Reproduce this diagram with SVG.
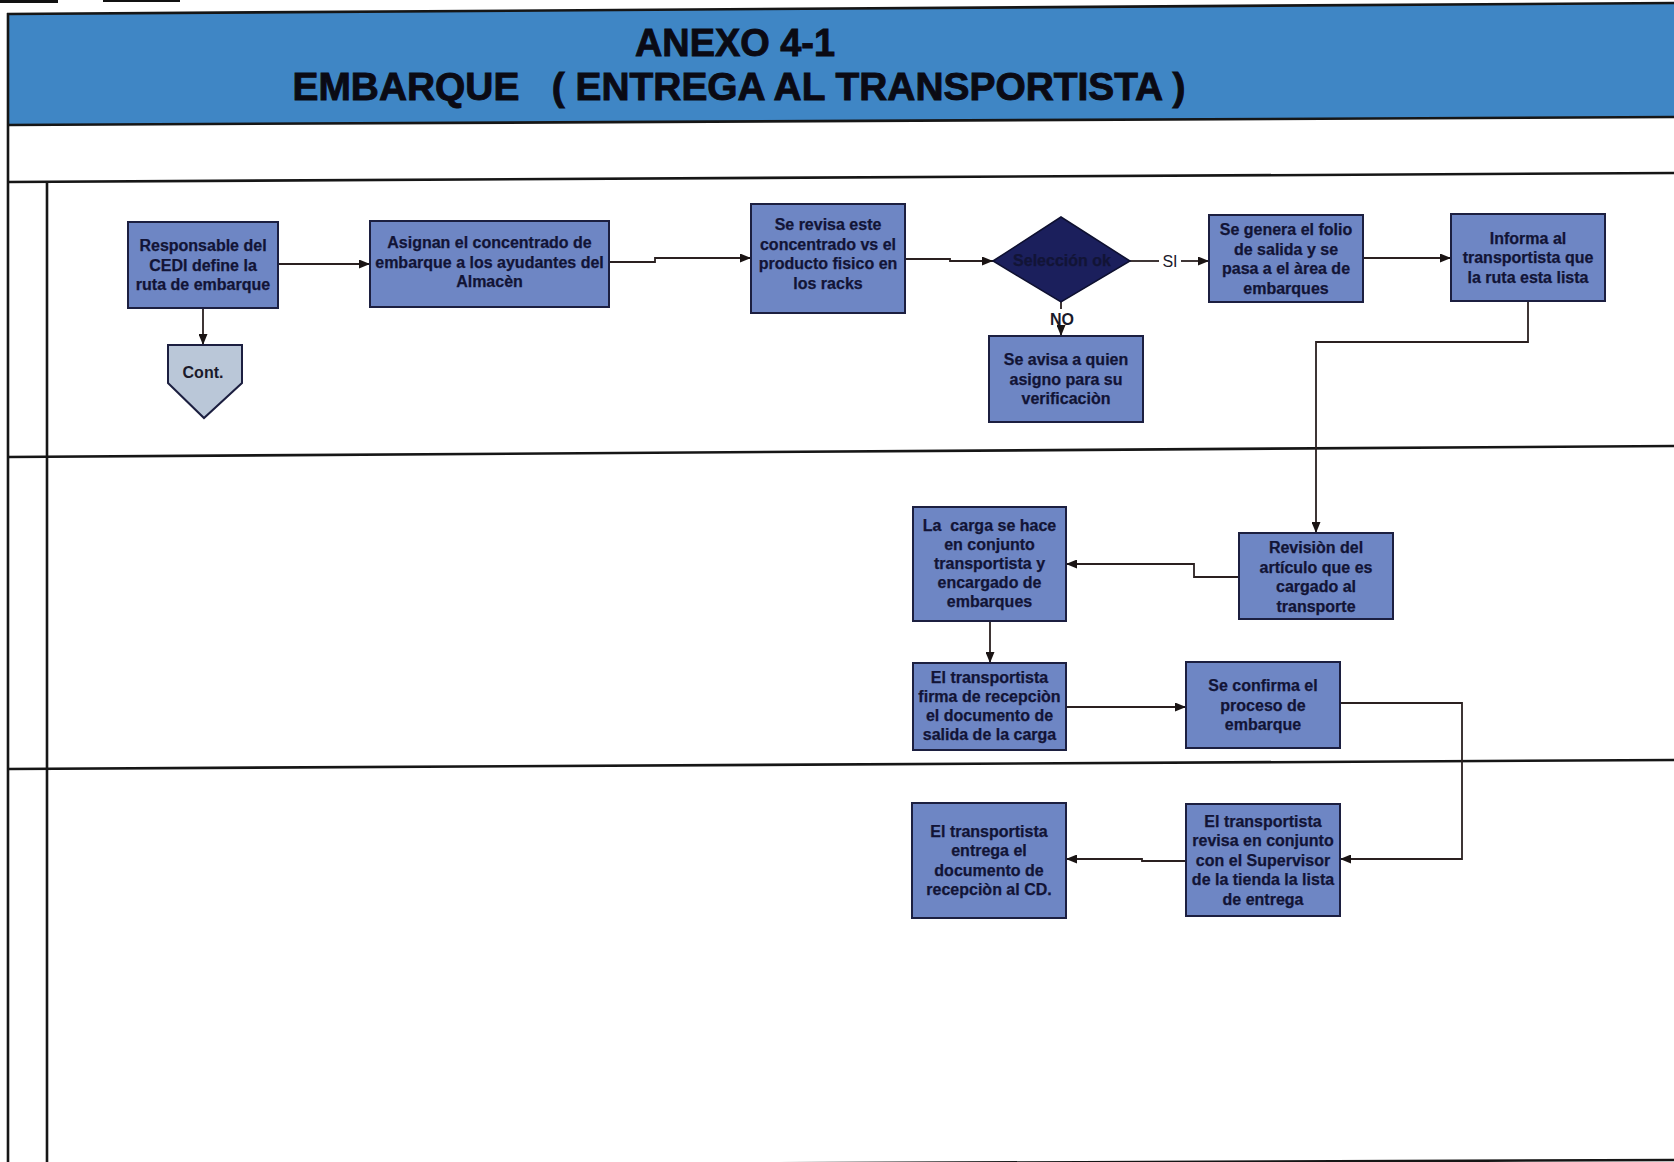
<svg xmlns="http://www.w3.org/2000/svg" width="1674" height="1162" viewBox="0 0 1674 1162">
  <style>
    .lane { stroke: #161616; stroke-width: 2.6; fill: none; }
    .box { fill: #6E86C4; stroke: #1C1F40; stroke-width: 2; }
    .txt { font-family: "Liberation Sans", Arial, sans-serif; font-size: 16px; font-weight: bold; fill: #121436; stroke: #121436; stroke-width: 0.25; text-anchor: middle; }
    .conn { stroke: #2A2020; stroke-width: 1.8; fill: none; }
    .lbl { font-family: "Liberation Sans", Arial, sans-serif; font-size: 16px; fill: #1A1A2A; text-anchor: middle; }
    .title { font-family: "Liberation Sans", Arial, sans-serif; font-size: 38px; font-weight: bold; fill: #0A0A14; stroke: #0A0A14; stroke-width: 0.9; text-anchor: middle; }
  </style>
  <defs>
    <marker id="arrow" markerUnits="userSpaceOnUse" markerWidth="11" markerHeight="9" refX="11" refY="4.5" orient="auto">
      <path d="M0,0 L11,4.5 L0,9 z" fill="#1A1414"/>
    </marker>
  </defs>

  <rect width="1674" height="1162" fill="#FFFFFF"/>

  <!-- corner marks -->
  <line x1="0" y1="1.5" x2="58" y2="1.5" stroke="#111" stroke-width="3"/>
  <line x1="103" y1="1" x2="180" y2="1" stroke="#111" stroke-width="2"/>

  <!-- header band -->
  <g id="header">
    <polygon points="7,14 1674,3 1674,117 7,125" fill="#3F86C5"/>
    <line class="lane" x1="7" y1="14" x2="1674" y2="3"/>
    <line class="lane" x1="7" y1="125" x2="1674" y2="117"/>
    <text class="title" x="735" y="56" textLength="200" lengthAdjust="spacingAndGlyphs">ANEXO 4-1</text>
    <text class="title" x="739" y="100" textLength="893" lengthAdjust="spacingAndGlyphs" xml:space="preserve">EMBARQUE   ( ENTREGA AL TRANSPORTISTA )</text>
  </g>

  <!-- swimlane grid -->
  <g id="lanes">
    <line class="lane" x1="7" y1="182" x2="1674" y2="173"/>
    <line class="lane" x1="7" y1="457" x2="1674" y2="446"/>
    <line class="lane" x1="7" y1="769" x2="1674" y2="760"/>
    <line class="lane" x1="47" y1="1166" x2="1674" y2="1160"/>
    <line class="lane" x1="8" y1="13" x2="8" y2="1162" stroke-width="2.2"/>
    <line class="lane" x1="47" y1="181" x2="47" y2="1162" stroke-width="2"/>
  </g>

  <!-- connectors -->
  <g id="connectors">
    <path class="conn" d="M278,264 H370" marker-end="url(#arrow)"/>
    <path class="conn" d="M203,308 V345" marker-end="url(#arrow)"/>
    <path class="conn" d="M609,262 H655 V258 H751" marker-end="url(#arrow)"/>
    <path class="conn" d="M905,259 H950 V261 H993" marker-end="url(#arrow)"/>
    <path class="conn" d="M1130,261 H1159"/>
    <path class="conn" d="M1181,261 H1209" marker-end="url(#arrow)"/>
    <text class="lbl" x="1170" y="266.5">SI</text>
    <path class="conn" d="M1061,302 V309"/>
    <path class="conn" d="M1061,328 V336" marker-end="url(#arrow)"/>
    <text class="lbl" x="1062" y="325" font-weight="bold">NO</text>
    <path class="conn" d="M1363,258 H1451" marker-end="url(#arrow)"/>
    <path class="conn" d="M1528,301 V342 H1316 V533" marker-end="url(#arrow)"/>
    <path class="conn" d="M1239,577 H1194 V564 H1066" marker-end="url(#arrow)"/>
    <path class="conn" d="M990,621 V663" marker-end="url(#arrow)"/>
    <path class="conn" d="M1066,707 H1186" marker-end="url(#arrow)"/>
    <path class="conn" d="M1340,703 H1462 V859 H1340" marker-end="url(#arrow)"/>
    <path class="conn" d="M1186,861 H1142 V859 H1066" marker-end="url(#arrow)"/>
  </g>

  <!-- process nodes -->
  <g id="n-responsable">
    <rect class="box" x="128" y="222" width="150" height="86"/>
    <text class="txt" x="203" y="251"><tspan x="203">Responsable del</tspan><tspan x="203" dy="19.5">CEDI define la</tspan><tspan x="203" dy="19.5">ruta de embarque</tspan></text>
  </g>

  <g id="n-cont">
    <polygon points="168,345 242,345 242,383 204,418 168,383" fill="#BAC7D8" stroke="#1C1F40" stroke-width="2"/>
    <text class="lbl" x="203" y="378" font-weight="bold" fill="#1A1C30">Cont.</text>
  </g>

  <g id="n-asignan">
    <rect class="box" x="370" y="221" width="239" height="86"/>
    <text class="txt" x="489.5" y="248"><tspan x="489.5">Asignan el concentrado de</tspan><tspan x="489.5" dy="19.5">embarque a los ayudantes del</tspan><tspan x="489.5" dy="19.5">Almacèn</tspan></text>
  </g>

  <g id="n-revisa">
    <rect class="box" x="751" y="204" width="154" height="109"/>
    <text class="txt" x="828" y="230"><tspan x="828">Se revisa este</tspan><tspan x="828" dy="19.5">concentrado vs el</tspan><tspan x="828" dy="19.5">producto fisico en</tspan><tspan x="828" dy="19.5">los racks</tspan></text>
  </g>

  <g id="n-seleccion">
    <polygon points="993,261 1061,217 1130,261 1061,302" fill="#1B1F5C" stroke="#0E1030" stroke-width="1.5"/>
    <text class="txt" x="1062" y="266" font-size="15" fill="#0A0B26" stroke="none">Selección ok</text>
  </g>

  <g id="n-avisa">
    <rect class="box" x="989" y="336" width="154" height="86"/>
    <text class="txt" x="1066" y="365"><tspan x="1066">Se avisa a quien</tspan><tspan x="1066" dy="19.5">asigno para su</tspan><tspan x="1066" dy="19.5">verificaciòn</tspan></text>
  </g>

  <g id="n-folio">
    <rect class="box" x="1209" y="215" width="154" height="87"/>
    <text class="txt" x="1286" y="235"><tspan x="1286">Se genera el folio</tspan><tspan x="1286" dy="19.5">de salida y se</tspan><tspan x="1286" dy="19.5">pasa a el àrea de</tspan><tspan x="1286" dy="19.5">embarques</tspan></text>
  </g>

  <g id="n-informa">
    <rect class="box" x="1451" y="214" width="154" height="87"/>
    <text class="txt" x="1528" y="243.5"><tspan x="1528">Informa al</tspan><tspan x="1528" dy="19.5">transportista que</tspan><tspan x="1528" dy="19.5">la ruta esta lista</tspan></text>
  </g>

  <g id="n-revision">
    <rect class="box" x="1239" y="533" width="154" height="86"/>
    <text class="txt" x="1316" y="553"><tspan x="1316">Revisiòn del</tspan><tspan x="1316" dy="19.5">artículo que es</tspan><tspan x="1316" dy="19.5">cargado al</tspan><tspan x="1316" dy="19.5">transporte</tspan></text>
  </g>

  <g id="n-carga">
    <rect class="box" x="913" y="507" width="153" height="114"/>
    <text class="txt" x="989.5" y="530.5" xml:space="preserve"><tspan x="989.5">La  carga se hace</tspan><tspan x="989.5" dy="19">en conjunto</tspan><tspan x="989.5" dy="19">transportista y</tspan><tspan x="989.5" dy="19">encargado de</tspan><tspan x="989.5" dy="19">embarques</tspan></text>
  </g>

  <g id="n-firma">
    <rect class="box" x="913" y="663" width="153" height="87"/>
    <text class="txt" x="989.5" y="683"><tspan x="989.5">El transportista</tspan><tspan x="989.5" dy="19">firma de recepciòn</tspan><tspan x="989.5" dy="19">el documento de</tspan><tspan x="989.5" dy="19">salida de la carga</tspan></text>
  </g>

  <g id="n-confirma">
    <rect class="box" x="1186" y="662" width="154" height="86"/>
    <text class="txt" x="1263" y="691"><tspan x="1263">Se confirma el</tspan><tspan x="1263" dy="19.5">proceso de</tspan><tspan x="1263" dy="19.5">embarque</tspan></text>
  </g>

  <g id="n-entrega">
    <rect class="box" x="912" y="803" width="154" height="115"/>
    <text class="txt" x="989" y="836.5"><tspan x="989">El transportista</tspan><tspan x="989" dy="19.5">entrega el</tspan><tspan x="989" dy="19.5">documento de</tspan><tspan x="989" dy="19.5">recepciòn al CD.</tspan></text>
  </g>

  <g id="n-revisa-lista">
    <rect class="box" x="1186" y="804" width="154" height="112"/>
    <text class="txt" x="1263" y="826.5"><tspan x="1263">El transportista</tspan><tspan x="1263" dy="19.5">revisa en conjunto</tspan><tspan x="1263" dy="19.5">con el Supervisor</tspan><tspan x="1263" dy="19.5">de la tienda la lista</tspan><tspan x="1263" dy="19.5">de entrega</tspan></text>
  </g>
</svg>
